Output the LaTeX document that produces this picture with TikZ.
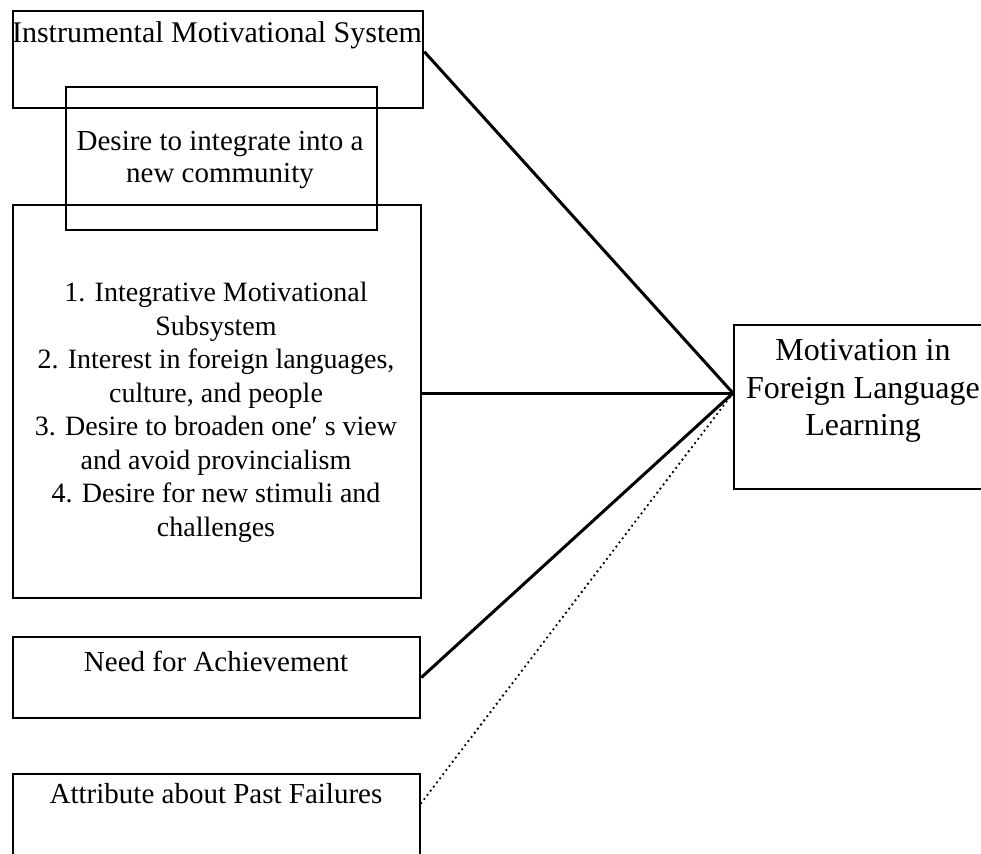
\documentclass[tikz,border=0pt]{standalone}
\usepackage{fontspec}
\setmainfont{Liberation Serif}

\begin{document}
\begin{tikzpicture}
	[x=0.5pt, y=-0.5pt,
		box/.style		={rectangle
							, draw
							, line width=1.1pt
							, anchor=north west
							, inner sep=0pt
							},
		box text/.style	={anchor=north
							, align=center
							, inner sep=0pt
							, font=\fontsize{14.5}{16}\selectfont
							},
		link/.style		={draw
							, line width=1.5pt
							},
		weak link/.style	={draw
							, line width=1.3pt
							, line cap=round
							, dash pattern=on 0pt off 2.6pt
							}
	]
\useasboundingbox (0,0) rectangle (981,853);
\clip (0,0) rectangle (981,853);

% boxes
\node [box, minimum width=205pt, minimum height=48.5pt] (instr) at (12,10) {};
\node [box, minimum width=155.5pt, minimum height=71.5pt] (desire) at (65,86) {};
\node [box, minimum width=204pt, minimum height=196.5pt] (integ) at (12,204) {};
\node [box, minimum width=203.5pt, minimum height=40.5pt] (need) at (12,636) {};
\node [box, minimum width=203.5pt, minimum height=60pt] (attrib) at (12,773) {};
\node [box, minimum width=131pt, minimum height=82pt] (motiv) at (733,324) {};

% texts
\node [box text, font=\fontsize{15}{16}\selectfont] (instr text) at (217,21) {Instrumental Motivational System};
\node [box text] (desire text) at (220,131) {Desire to integrate into a\\new community};
\node [box text, font=\fontsize{14}{16.75}\selectfont] (integ text) at (216,282)
	{1. Integrative Motivational\\Subsystem\\2. Interest in foreign languages,\\culture, and people\\3. Desire to broaden one′ s view\\and avoid provincialism\\4. Desire for new stimuli and\\challenges};
\node [box text] (need text) at (216,651) {Need for Achievement};
\node [box text] (attrib text) at (216,783) {Attribute about Past Failures};
\node [box text, font=\fontsize{16}{18.75}\selectfont] (motiv text) at (863,339) {Motivation in\\Foreign Language\\Learning};

% connectors
\coordinate (hub) at ([yshift=7pt]motiv.west);
\path [link]		([yshift=4pt]instr.east)		-- (hub);
\path [link]		([yshift=4.25pt]integ.east)	-- (hub);
\path [link]		(need.east)					-- (hub);
\path [weak link]	([yshift=15.5pt]attrib.east)	-- (hub);
\end{tikzpicture}
\end{document}
